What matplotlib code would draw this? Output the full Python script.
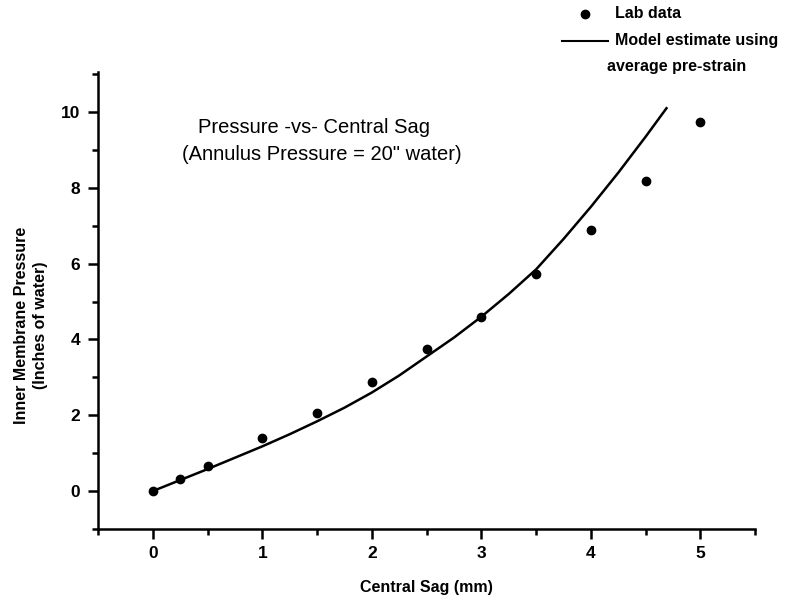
import matplotlib.pyplot as plt
from matplotlib.lines import Line2D
from matplotlib.ticker import MultipleLocator

plt.rcParams['font.family'] = ['Liberation Sans', 'DejaVu Sans']

# Lab data points (central sag in mm, pressure in inches of water)
lab_sag = [0, 0.25, 0.5, 1.0, 1.5, 2.0, 2.5, 3.0, 3.5, 4.0, 4.5, 5.0]
lab_pressure = [0.0, 0.32, 0.66, 1.40, 2.06, 2.88, 3.75, 4.59, 5.73, 6.89, 8.18, 9.74]

# Model estimate curve
model_sag = [0, 0.25, 0.5, 0.75, 1.0, 1.25, 1.5, 1.75, 2.0, 2.25, 2.5, 2.75,
             3.0, 3.25, 3.5, 3.75, 4.0, 4.25, 4.5, 4.69]
model_pressure = [0, 0.29, 0.58, 0.88, 1.18, 1.5, 1.84, 2.2, 2.6, 3.05, 3.55, 4.05,
                  4.6, 5.2, 5.85, 6.65, 7.5, 8.4, 9.35, 10.1]

fig = plt.figure(figsize=(7.85, 5.97), dpi=100)
ax = fig.add_axes([0.125, 0.114, 0.837, 0.765])

ax.plot(model_sag, model_pressure, color='black', lw=1.8)
ax.plot(lab_sag, lab_pressure, 'o', color='black', ms=6)

ax.set_xlim(-0.5, 5.5)
ax.set_ylim(-1, 11.05)
ax.xaxis.set_major_locator(MultipleLocator(1))
ax.xaxis.set_minor_locator(MultipleLocator(0.5))
ax.yaxis.set_major_locator(MultipleLocator(2))
ax.yaxis.set_minor_locator(MultipleLocator(1))
ax.set_xticks([0, 1, 2, 3, 4, 5])
ax.set_yticks([0, 2, 4, 6, 8, 10])

for s in ['top', 'right']:
    ax.spines[s].set_visible(False)
for s in ['left', 'bottom']:
    ax.spines[s].set_linewidth(1.8)

ax.tick_params(which='major', length=7, width=1.8, labelsize=12.5)
ax.tick_params(which='minor', length=4, width=1.8)
ax.tick_params(axis='y', which='major', pad=6)
ax.tick_params(axis='x', which='major', pad=5)
for lab in ax.get_xticklabels() + ax.get_yticklabels():
    lab.set_fontweight('bold')

ax.set_xlabel('Central Sag (mm)', fontsize=11.5, fontweight='bold', labelpad=14)
fig.text(0.039, 0.455, 'Inner Membrane Pressure\n(Inches of water)', rotation=90,
         ha='center', va='center', fontsize=11.5, fontweight='bold',
         multialignment='center', linespacing=1.35)

ax.text(1.47, 9.58, 'Pressure -vs- Central Sag', fontsize=14.5, ha='center', va='center')
ax.text(1.54, 8.87, '(Annulus Pressure = 20" water)', fontsize=14.5, ha='center', va='center')

# legend drawn above the axes, top right
fig.add_artist(Line2D([0.745], [1 - 14 / 597], marker='o', color='black', ms=6,
                      transform=fig.transFigure))
fig.text(0.783, 1 - 14 / 597, 'Lab data', fontsize=11.5, fontweight='bold', va='center')
fig.add_artist(Line2D([0.716, 0.775], [1 - 41 / 597] * 2, color='black', lw=1.5,
                      transform=fig.transFigure))
fig.text(0.784, 1 - 41 / 597, 'Model estimate using', fontsize=11.5, fontweight='bold', va='center')
fig.text(0.773, 1 - 66 / 597, 'average pre-strain', fontsize=11.5, fontweight='bold', va='center')

fig.savefig('out.png', dpi=100)
plt.close(fig)
